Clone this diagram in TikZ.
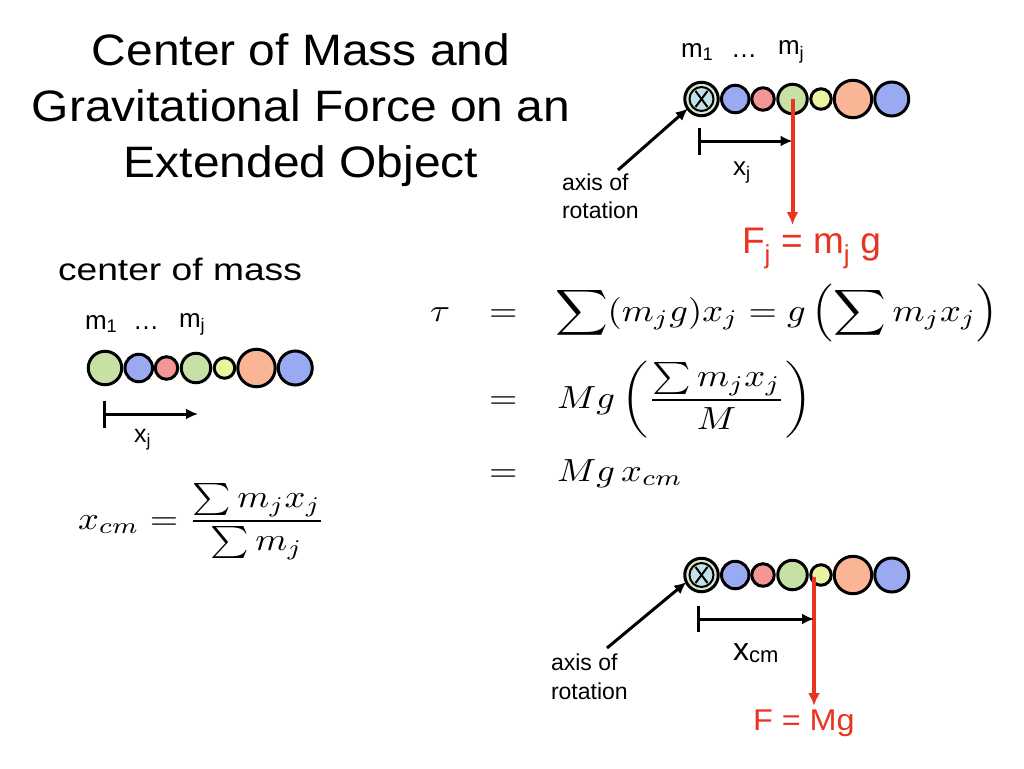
\documentclass[tikz,border=0pt]{standalone}
\usepackage{amsmath}
\usepackage{graphicx}
\usepackage{fontspec}
\setmainfont{Liberation Sans}
\usetikzlibrary{arrows.meta}
\definecolor{bgreen}{RGB}{198,224,165}
\definecolor{bblue}{RGB}{153,170,243}
\definecolor{bpink}{RGB}{242,150,150}
\definecolor{byellow}{RGB}{235,242,160}
\definecolor{bsalmon}{RGB}{250,180,150}
\definecolor{axgreen}{RGB}{215,235,200}
\definecolor{axblue}{RGB}{195,225,232}
\definecolor{fred}{RGB}{232,52,32}
\newcommand\hx[2]{\scalebox{#1}[1]{#2}}
\newcommand\mbx[1]{\scalebox{3.65}[3.2]{$\displaystyle #1$}}
\newcommand\fs[1]{\fontsize{#1}{#1}\selectfont}
% bead chain: #1 prefix, #2 x of first bead, #3 y, #4 fill of first bead
\newcommand\beadchain[4]{%
  \node[bead, fill=#4, minimum size=33.5pt] (#1a) at (#2,#3) {};
  \node[bead, fill=bblue, minimum size=27.5pt] (#1b) at (#2+33.75,#3) {};
  \node[bead, fill=bpink, minimum size=22.5pt] (#1c) at (#2+61.5,#3) {};
  \node[bead, fill=bgreen, minimum size=29.5pt] (#1d) at (#2+91,#3) {};
  \node[bead, fill=byellow, minimum size=20.5pt] (#1e) at (#2+119.5,#3) {};
  \node[bead, fill=bsalmon, minimum size=37.5pt] (#1f) at (#2+151.5,#3) {};
  \node[bead, fill=bblue, minimum size=34pt] (#1g) at (#2+190.25,#3) {};
}
\newcommand\axismark[1]{%
  \node[bead, fill=axblue, line width=2pt, minimum size=24pt] (#1x) at (#1a.center) {};
  \draw[line width=2pt] ([shift={(-6,-8)}]#1a.center) -- ([shift={(6,8)}]#1a.center);
  \draw[line width=2pt] ([shift={(-6,8)}]#1a.center) -- ([shift={(6,-8)}]#1a.center);
}
\tikzset{
  bead/.style={circle, draw=black, line width=3pt, inner sep=0pt, outer sep=0pt},
  txt/.style={inner sep=0pt, outer sep=0pt},
  blk/.style={line width=3pt, -{Latex[length=12pt,width=11pt]}},
  tick/.style={line width=3pt},
  redarr/.style={draw=fred, line width=4pt, -{Latex[length=13pt,width=12pt]}},
}
\begin{document}
\begin{tikzpicture}[x=1pt,y=-1pt]
\useasboundingbox[fill=white] (0,0) rectangle (1024,768);
% title
\node[txt, anchor=base, font=\fs{44}] (t1) at (301,65) {\hx{1.09}{Center of Mass and}};
\node[txt, anchor=base, font=\fs{44}] (t2) at (301,121) {\hx{1.09}{Gravitational Force on an}};
\node[txt, anchor=base, font=\fs{44}] (t3) at (301,177) {\hx{1.09}{Extended Object}};
% left: center of mass
\node[txt, anchor=base west, font=\fs{31}] (com) at (58,280) {\hx{1.2}{center of mass}};
\node[txt, anchor=base west, font=\fs{26}] (lm1) at (85,329) {m\textsubscript{1}};
\node[txt, anchor=base west, font=\fs{26}] (ldots) at (133,329) {…};
\node[txt, anchor=base west, font=\fs{26}] (lmj) at (179,327) {m\textsubscript{j}};
\beadchain{l}{105}{368}{bgreen}
\coordinate (lx0) at (104,414);
\draw[tick] (104,401) -- (104,428);
\draw[blk] (lx0) -- ++(94,0) coordinate (lx1);
\node[txt, anchor=base west, font=\fs{25}] (lxj) at (134,442) {x\textsubscript{j}};
\node[txt, anchor=base west] (xcm) at (78,529) {\mbx{x_{cm}=\frac{\sum m_jx_j}{\sum m_j}}};
% top right
\node[txt, anchor=base west, font=\fs{26}] (tm1) at (681,57) {m\textsubscript{1}};
\node[txt, anchor=base west, font=\fs{26}] (tdots) at (731,57) {…};
\node[txt, anchor=base west, font=\fs{26}] (tmj) at (778,55) {m\textsubscript{j}};
\beadchain{t}{701.5}{99}{axgreen}
\axismark{t}
\coordinate (tax) at (618,170);
\draw[blk] (tax) -- (ta.215);
\node[txt, anchor=base west, font=\fs{23}] (tax1) at (562,190) {axis of};
\node[txt, anchor=base west, font=\fs{23}] (tax2) at (562,218) {rotation};
\coordinate (tx0) at (699,141);
\draw[tick] (699,128) -- (699,155);
\draw[blk] (tx0) -- (tx0 -| td.center);
\node[txt, anchor=base west, font=\fs{26}] (txj) at (733,175) {x\textsubscript{j}};
\coordinate (tFtip) at (792.5,225);
\draw[redarr] (td.center) -- (tFtip);
\node[txt, anchor=base west, font=\fs{37}, text=fred] (Fj) at (742,253) {F\textsubscript{j} = m\textsubscript{j} g};
% equations
\node[txt, anchor=base west] (tau) at (430,321) {\mbx{\tau}};
\node[txt, anchor=base west] (e1) at (489,321) {\mbx{=}};
\node[txt, anchor=base west] (r1) at (555,321) {\mbx{\sum(m_jg)x_j=g\left(\sum m_jx_j\right)}};
\node[txt, anchor=base west] (e2) at (489,408) {\mbx{=}};
\node[txt, anchor=base west] (r2) at (557,408) {\mbx{Mg\left(\frac{\sum m_jx_j}{M}\right)}};
\node[txt, anchor=base west] (e3) at (489,481) {\mbx{=}};
\node[txt, anchor=base west] (r3) at (557,481) {\mbx{Mg\,x_{cm}}};
% bottom right
\beadchain{b}{701.5}{575}{axgreen}
\axismark{b}
\coordinate (bax) at (607,648);
\draw[blk] (bax) -- (ba.205);
\node[txt, anchor=base west, font=\fs{23}] (bax1) at (551,670) {axis of};
\node[txt, anchor=base west, font=\fs{23}] (bax2) at (551,699) {rotation};
\coordinate (bcm) at (814,577);
\coordinate (bFtip) at (814,706);
\draw[redarr] (bcm) -- (bFtip);
\coordinate (bx0) at (698,619);
\draw[tick] (698,606) -- (698,632);
\draw[blk] (bx0) -- (bx0 -| bcm);
\node[txt, anchor=base west, font=\fs{32}] (bxcm) at (733,660) {x\raisebox{-2pt}{\fs{22}cm}};
\node[txt, anchor=base west, font=\fs{30}, text=fred] (FMg) at (753,730) {\hx{1.08}{F = Mg}};
\end{tikzpicture}
\end{document}
